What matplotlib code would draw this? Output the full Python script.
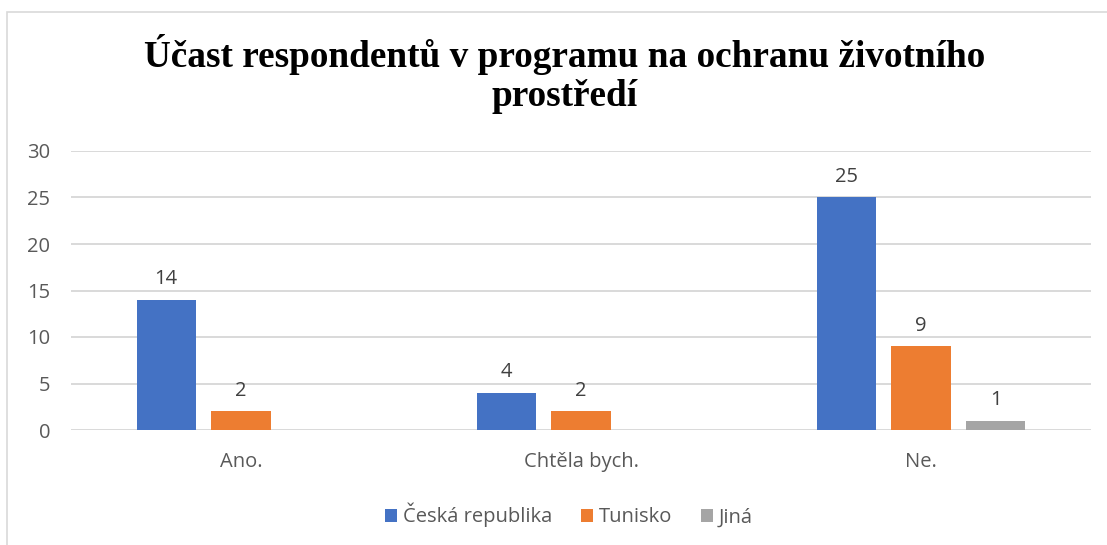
import numpy as np
import matplotlib.pyplot as plt
from matplotlib.patches import Rectangle

categories = ['Ano.', 'Chtěla bych.', 'Ne.']
series_names = ['Česká republika', 'Tunisko', 'Jiná']
cz_values = [14, 4, 25]
tn_values = [2, 2, 9]
other_values = [0, 0, 1]
colors = ['#4472C4', '#ED7D31', '#A5A5A5']

W, H = 1107, 545
fig = plt.figure(figsize=(W / 100, H / 100), dpi=100)

# light outer frame of the chart object (cut off at right/bottom)
fig.patches.append(Rectangle((7 / W, -0.1), 1.2, 1 - 12 / H + 0.1,
                             transform=fig.transFigure, fill=False,
                             edgecolor='#D9D9D9', linewidth=1.2))

ax = fig.add_axes([71 / W, 1 - 430 / H, 1020 / W, 279 / H])

x = np.arange(len(categories))
width = 0.174
step = 0.22
all_values = [cz_values, tn_values, other_values]
for i, (name, vals, c) in enumerate(zip(series_names, all_values, colors)):
    pos = x + (i - 1) * step
    ax.bar(pos, vals, width, color=c, label=name, zorder=3)
    for p, v in zip(pos, vals):
        if v > 0:
            ax.annotate(str(v), (p, v), xytext=(0, 7.5), textcoords='offset points',
                        ha='center', va='bottom', fontsize=14.5,
                        color='#404040', family='Open Sans')

ax.set_xlim(-0.5, 2.5)
ax.set_ylim(0, 30)
ax.set_yticks(range(0, 31, 5))
ax.yaxis.grid(True, color='#D9D9D9', linewidth=1.4, zorder=0)
ax.set_xticks(x)
ax.set_xticklabels(categories)
for s in ax.spines.values():
    s.set_visible(False)
ax.tick_params(axis='both', length=0, labelsize=14.5, labelcolor='#595959')
ax.tick_params(axis='y', pad=15)
ax.tick_params(axis='x', pad=16)
for lab in ax.get_xticklabels() + ax.get_yticklabels():
    lab.set_family('Open Sans')

fig.text(0.51, 1 - 74 / H, 'Účast respondentů v programu na ochranu životního\nprostředí',
         ha='center', va='center', fontsize=26.8, fontweight='bold',
         family='Liberation Serif', linespacing=1.12)

leg = fig.legend(loc='center', bbox_to_anchor=(0.514, 1 - 515 / H), ncol=3,
                 frameon=False, handlelength=0.6, handleheight=0.6,
                 handletextpad=0.3, columnspacing=1.4,
                 prop={'family': 'Open Sans', 'size': 14.5})
for t in leg.get_texts():
    t.set_color('#595959')

fig.savefig('out.png', dpi=100)
